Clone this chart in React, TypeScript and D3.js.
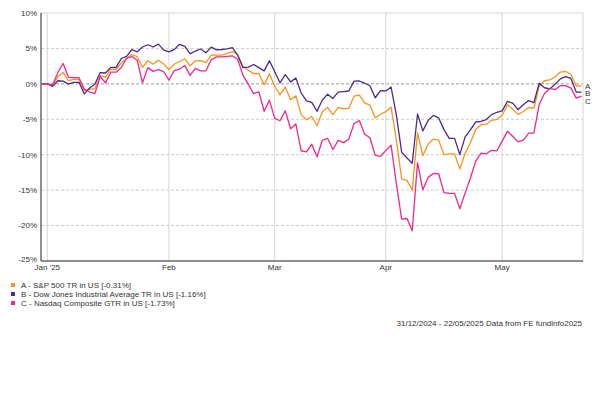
import { useMemo } from "react";
import * as d3 from "d3";

// weekday calendar from 31/12/2024 to 22/05/2025 (holidays repeat the previous close)
const startDate = new Date(2024, 11, 31);
const endDate = new Date(2025, 4, 22);

const monthLabels = ["Jan '25", "Feb", "Mar", "Apr", "May"];
const yTicks = [10, 5, 0, -5, -10, -15, -20, -25];

const seriesNames = [
  "A - S&P 500 TR in US [-0.31%]",
  "B - Dow Jones Industrial Average TR in US [-1.16%]",
  "C - Nasdaq Composite GTR in US [-1.73%]",
];
const seriesKeys = ["A", "B", "C"];
const seriesColors = ["#f7931e", "#4b2a8c", "#f0288c"];

// % growth, one value per weekday
const spx = [
  0, 0, -0.22, 1.03, 1.59, 0.47, 0.62, 0.62, -0.93, -0.77, -0.66, 1.16, 0.95, 2.06, 2.06, 2.95, 3.58,
  4.13, 3.83, 2.32, 3.26, 2.78, 3.32, 2.8, 2.02, 2.76, 3.16, 3.53, 2.55, 3.24, 3.28, 3.0, 4.07, 4.06,
  4.06, 4.31, 4.56, 4.11, 2.44, 1.93, 1.45, 1.47, -0.14, 1.44, -0.34, -1.56, -0.46, -2.23, -1.7,
  -4.34, -5.06, -4.6, -5.92, -3.93, -3.31, -4.34, -3.31, -3.52, -3.44, -1.74, -1.59, -2.68, -3.0,
  -4.81, -4.29, -3.93, -3.28, -7.95, -13.43, -13.63, -14.98, -6.92, -10.13, -8.51, -7.79, -7.95,
  -10.0, -9.88, -9.88, -12.0, -9.8, -8.3, -6.45, -5.76, -5.7, -5.15, -5.02, -4.42, -2.96, -3.57,
  -4.31, -3.9, -3.34, -3.41, -0.28, 0.44, 0.55, 0.96, 1.66, 1.75, 1.36, -0.27, -0.31,
];
const dow = [
  0, 0, -0.36, 0.44, 0.38, -0.04, 0.22, 0.22, -1.42, -0.58, -0.06, 1.59, 1.53, 2.32, 2.32, 3.58, 3.89,
  4.85, 4.52, 5.2, 5.52, 5.2, 5.6, 4.8, 4.51, 4.83, 5.58, 5.28, 4.23, 4.63, 4.92, 4.39, 5.19, 4.8,
  4.85, 4.93, 5.1, 4.04, 2.28, 2.36, 2.73, 2.29, 1.83, 3.25, 1.72, 0.15, 1.29, 0.28, 0.81, -1.29,
  -2.41, -2.61, -3.87, -2.28, -1.45, -2.06, -1.16, -1.09, -1.01, 0.39, 0.4, 0.09, -0.27, -1.96,
  -0.97, -1.0, -0.45, -4.4, -9.64, -10.46, -11.21, -4.25, -6.64, -5.18, -4.45, -4.81, -6.46, -7.7,
  -7.7, -9.98, -7.49, -6.5, -5.36, -5.31, -5.04, -4.34, -4.01, -3.81, -2.48, -2.71, -3.63, -2.96,
  -2.36, -2.64, 0.08, -0.55, -0.71, -0.07, 0.71, 1.03, 0.76, -1.16, -1.16,
];
const nasdaq = [
  0, 0, -0.16, 1.61, 2.87, 0.93, 0.87, 0.87, -0.77, -1.15, -1.38, 1.04, 0.14, 1.65, 1.65, 2.31, 3.62,
  3.85, 3.33, 0.16, 2.29, 1.76, 2.02, 1.74, 0.52, 1.88, 2.07, 2.59, 1.2, 2.19, 1.82, 1.85, 3.39, 3.81,
  3.81, 3.88, 3.96, 3.47, 1.2, -0.03, -1.37, -1.12, -3.87, -2.3, -4.88, -5.21, -3.82, -6.33, -5.67,
  -9.44, -9.61, -8.51, -10.3, -7.96, -7.68, -9.26, -7.98, -8.29, -7.81, -5.61, -5.18, -7.11, -7.6,
  -10.09, -10.22, -9.43, -8.65, -14.09, -19.08, -19.0, -20.74, -11.12, -14.94, -13.2, -12.64,
  -12.68, -15.36, -15.46, -15.46, -17.62, -15.39, -13.28, -10.91, -9.79, -9.87, -9.38, -9.46, -8.09,
  -6.7, -7.4, -8.19, -7.95, -6.96, -6.96, -2.92, -1.36, -0.65, -0.83, -0.26, -0.24, -0.61, -2.01,
  -1.73,
];

const W = 604;
const H = 397;
const left = 41;
const right = 583;
const top = 13;
const bottom = 261;
const font = "'Liberation Sans', Arial, sans-serif";

export default function App() {
  const dates = useMemo(
    () =>
      d3.timeDay
        .range(startDate, d3.timeDay.offset(endDate, 1))
        .filter((d) => d.getDay() !== 0 && d.getDay() !== 6),
    []
  );

  const x = d3.scaleLinear().domain([0, dates.length - 1]).range([left + 1, right - 1.5]);
  const y = d3.scaleLinear().domain([-25, 10]).range([bottom, top]);

  // first weekday of each month in 2025
  const monthIdx: number[] = [];
  dates.forEach((d, i) => {
    if (d.getFullYear() === 2025 && (i === 0 || d.getMonth() !== dates[i - 1].getMonth() || dates[i - 1].getFullYear() !== 2025))
      monthIdx.push(i);
  });

  const series = [spx, dow, nasdaq];
  const line = d3
    .line<number>()
    .x((_, i) => x(i))
    .y((v) => y(v));

  // end labels, pushed apart so they don't overlap
  const ends = series.map((s) => y(s[s.length - 1]));
  const labelY: number[] = [];
  ends.forEach((e, i) => {
    let v = e;
    if (i > 0 && v < labelY[i - 1] + 7.5) v = labelY[i - 1] + 7.5;
    labelY.push(v);
  });

  return (
    <svg
      width={W}
      height={H}
      style={{ position: "absolute", left: 0, top: 0, background: "#fff" }}
      fontFamily={font}
    >
      {/* horizontal grid */}
      {yTicks.map((t) =>
        t === 10 || t === -25 ? null : (
          <line
            key={t}
            x1={left}
            x2={right}
            y1={y(t)}
            y2={y(t)}
            stroke={t === 0 ? "#999" : "#ccc"}
            strokeWidth={1}
            strokeDasharray="3,2"
          />
        )
      )}
      {/* month lines */}
      {monthIdx.map((i) => (
        <line key={i} x1={x(i)} x2={x(i)} y1={top} y2={bottom} stroke="#d6d6d6" />
      ))}
      <line x1={left} x2={right} y1={top} y2={top} stroke="#d6d6d6" />
      <line x1={right} x2={right} y1={top} y2={bottom} stroke="#d6d6d6" />

      {/* series */}
      {series.map((s, k) => (
        <path key={k} d={line(s) ?? ""} fill="none" stroke={seriesColors[k]} strokeWidth={1.3} strokeLinejoin="round" />
      ))}

      {/* axes */}
      <line x1={left} x2={left} y1={top} y2={bottom} stroke="#222" />
      <line x1={left} x2={right} y1={bottom} y2={bottom} stroke="#222" />

      {yTicks.map((t) => (
        <text key={t} x={37} y={y(t) - (t === -25 ? 1.5 : 0)} dy="0.35em" textAnchor="end" fontSize={8} fill="#333">
          {t}%
        </text>
      ))}
      {monthIdx.map((i, k) => (
        <text key={i} x={x(i)} y={bottom + 9} textAnchor="middle" fontSize={8} fill="#333">
          {monthLabels[k]}
        </text>
      ))}

      {seriesKeys.map((k, i) => (
        <text key={k} x={right + 2} y={labelY[i]} dy="0.35em" fontSize={8} fill="#333">
          {k}
        </text>
      ))}

      {/* legend */}
      {seriesNames.map((n, i) => (
        <g key={n} transform={`translate(11, ${283 + i * 9})`}>
          <rect width={4} height={4} fill={seriesColors[i]} />
          <text x={10} y={4.5} fontSize={8} fill="#333">
            {n}
          </text>
        </g>
      ))}

      <text x={582} y={326} textAnchor="end" fontSize={8} fill="#333">
        31/12/2024 - 22/05/2025 Data from FE fundinfo2025
      </text>
    </svg>
  );
}
